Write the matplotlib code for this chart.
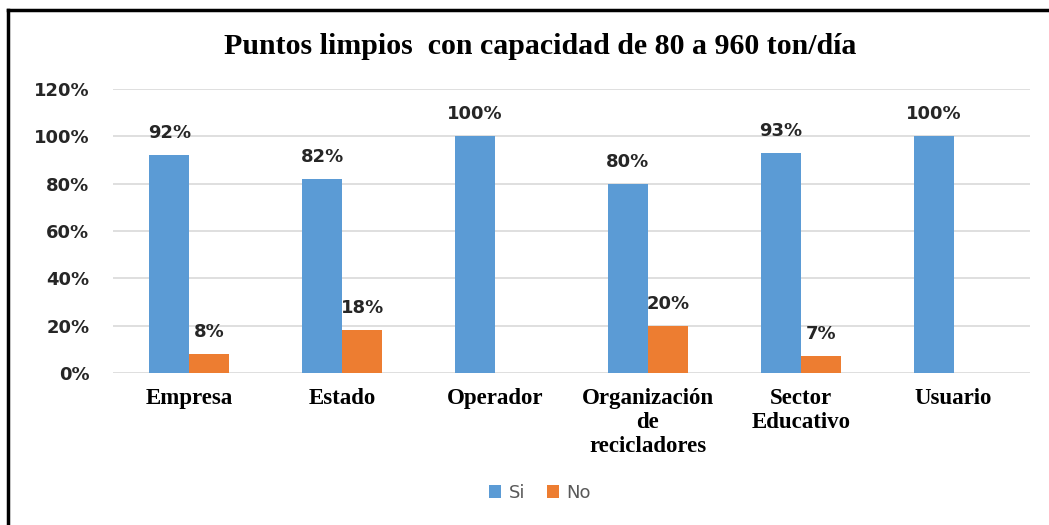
#!/usr/bin/env python3
"""Grouped bar chart: Puntos limpios con capacidad de 80 a 960 ton/dia."""

import matplotlib
matplotlib.use("Agg")
import matplotlib.pyplot as plt
from matplotlib.lines import Line2D
from matplotlib.ticker import FuncFormatter
import numpy as np

categories = ["Empresa", "Estado", "Operador", "Organización\nde\nrecicladores",
              "Sector\nEducativo", "Usuario"]
si_values = [92, 82, 100, 80, 93, 100]
no_values = [8, 18, 0, 20, 7, 0]
series_names = ["Si", "No"]
title = "Puntos limpios  con capacidad de 80 a 960 ton/día"

BLUE = "#5B9BD5"
ORANGE = "#ED7D31"


def main() -> None:
    W, H = 1049, 525
    fig = plt.figure(figsize=(W / 100, H / 100), dpi=100)
    ax = fig.add_axes([113 / W, 1 - 373 / H, (1030 - 113) / W, (373 - 89) / H])

    x = np.arange(len(categories))
    bw = 0.262
    bars_si = ax.bar(x - bw / 2, si_values, bw, color=BLUE, label=series_names[0], zorder=2)
    bars_no = ax.bar(x + bw / 2, no_values, bw, color=ORANGE, label=series_names[1], zorder=2)

    for bars, vals in ((bars_si, si_values), (bars_no, no_values)):
        for b, v in zip(bars, vals):
            if v == 0:
                continue
            ax.text(b.get_x() + b.get_width() / 2, v + 5.5, f"{v}%", ha="center", va="bottom",
                    fontsize=13, fontweight="bold", color="#262626", family="DejaVu Sans")

    ax.set_xlim(-0.5, len(categories) - 0.5)
    ax.set_ylim(0, 120)
    ax.set_yticks(np.arange(0, 121, 20))
    ax.yaxis.set_major_formatter(FuncFormatter(lambda v, _: f"{v:.0f}%"))
    ax.grid(axis="y", color="#D9D9D9", linewidth=1.2, zorder=0)
    ax.set_axisbelow(True)
    for s in ax.spines.values():
        s.set_visible(False)
    ax.tick_params(axis="both", length=0)
    ax.tick_params(axis="y", pad=17)
    ax.tick_params(axis="x", pad=11)
    for lbl in ax.get_yticklabels():
        lbl.set_fontsize(13)
        lbl.set_fontweight("bold")
        lbl.set_color("#262626")
    ax.set_xticks(x)
    ax.set_xticklabels(categories, fontsize=16.5, fontweight="bold", family="Liberation Serif",
                       linespacing=1.18)

    fig.text(540 / W, 1 - 47 / H, title, ha="center", va="center", fontsize=21.5,
             fontweight="bold", family="Liberation Serif")

    ax.legend(loc="center", bbox_to_anchor=((540 - 113) / (1030 - 113), (373 - 493) / (373 - 89)),
              ncol=2, frameon=False, fontsize=13, handlelength=0.7, handleheight=0.7,
              columnspacing=1.2, handletextpad=0.4, labelcolor="#595959")

    # black frame on top and left edge
    fig.add_artist(Line2D([8 / W, 8 / W], [0, 1 - 10 / H], transform=fig.transFigure,
                          color="black", linewidth=2.5))
    fig.add_artist(Line2D([8 / W, 1], [1 - 10 / H, 1 - 10 / H], transform=fig.transFigure,
                          color="black", linewidth=2.5))

    fig.savefig("out.png", dpi=100)


if __name__ == "__main__":
    main()
